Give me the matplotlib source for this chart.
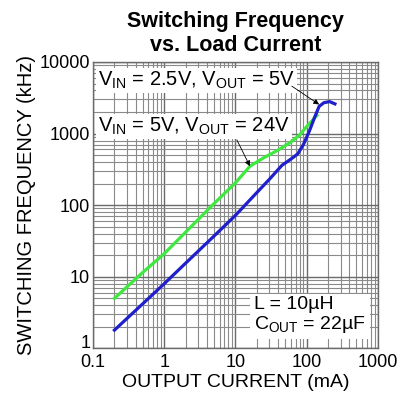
import matplotlib
matplotlib.use("Agg")
import matplotlib.pyplot as plt
import matplotlib.transforms as mtransforms
from matplotlib.ticker import LogLocator, FixedLocator, NullFormatter

plt.rcParams['font.family'] = ['Liberation Sans', 'DejaVu Sans']
plt.rcParams['mathtext.fontset'] = 'custom'
plt.rcParams['mathtext.rm'] = 'Liberation Sans'
plt.rcParams['mathtext.it'] = 'Liberation Sans'

# Data
green_x = [0.2, 0.5, 1, 2, 5, 10, 16, 25, 40, 60, 80, 100, 140]
green_y = [5, 11.5, 21, 42, 105, 205, 350, 460, 590, 760, 960, 1250, 1800]

blue_x = [0.2, 0.5, 1, 2, 5, 10, 20, 30, 45, 60, 75, 90, 110, 130, 150, 175, 210, 250]
blue_y = [1.8, 4.2, 8, 15.5, 37, 72, 150, 230, 360, 440, 520, 700, 1100, 1700, 2400, 2700, 2800, 2600]

x_ticks = [0.1, 1, 10, 100, 1000]
x_tick_labels = ["0.1", "1", "10", "100", "1000"]
y_ticks = [1, 10, 100, 1000, 10000]
y_tick_labels = ["1", "10", "100", "1000", "10000"]

title = "Switching Frequency\nvs. Load Current"
xlabel = "OUTPUT CURRENT (mA)"
ylabel = "SWITCHING FREQUENCY (kHz)"
label_blue = r"V$_\mathrm{IN}$ = 2.5V, V$_\mathrm{OUT}$ = 5V"
label_green = r"V$_\mathrm{IN}$ = 5V, V$_\mathrm{OUT}$ = 24V"
label_cond = "L = 10\u00b5H\n" + "C$_\\mathrm{OUT}$ = 22\u00b5F"

fig = plt.figure(figsize=(4.17, 4.0), dpi=100)
ax = fig.add_axes([0.223, 0.129, 0.683, 0.716])

ax.set_xscale("log")
ax.set_yscale("log")
ax.set_xlim(0.1, 1000)
ax.set_ylim(1, 10000)

ax.xaxis.set_major_locator(FixedLocator(x_ticks))
ax.yaxis.set_major_locator(FixedLocator(y_ticks))
ax.set_xticklabels(x_tick_labels)
ax.set_yticklabels(y_tick_labels)
ax.xaxis.set_minor_locator(LogLocator(base=10, subs=range(2, 10)))
ax.yaxis.set_minor_locator(LogLocator(base=10, subs=range(2, 10)))
ax.xaxis.set_minor_formatter(NullFormatter())
ax.yaxis.set_minor_formatter(NullFormatter())
ax.grid(True, which="major", color="#6a6a6a", lw=1.0)
ax.grid(True, which="minor", color="#8a8a8a", lw=0.8)
ax.tick_params(which="both", length=0, labelsize=13)
ax.tick_params(axis="x", pad=4)
ax.tick_params(axis="y", pad=2)
for s in ax.spines.values():
    s.set_color("#6a6a6a")
    s.set_linewidth(1.0)

# lift the lowest y tick label slightly so it clears the "0.1" label
fig.canvas.draw()
ylab0 = ax.get_yticklabels()[0]
ylab0.set_transform(ylab0.get_transform() +
                    mtransforms.ScaledTranslation(0, 5 / 72, fig.dpi_scale_trans))

ax.plot(green_x, green_y, color="#3ee83e", lw=2.3, zorder=3)
ax.plot(blue_x, blue_y, color="#1f1fcc", lw=2.3, zorder=3)

box = dict(facecolor="white", edgecolor="none", pad=1.5)
ax.text(0.018, 0.935, label_blue, transform=ax.transAxes, fontsize=14.5,
        ha="left", va="center", bbox=box, zorder=4)
ax.text(0.018, 0.775, label_green, transform=ax.transAxes, fontsize=14.5,
        ha="left", va="center", bbox=box, zorder=4)
ax.text(0.565, 0.115, label_cond, transform=ax.transAxes, fontsize=14,
        ha="left", va="center", bbox=dict(facecolor="white", edgecolor="none", pad=3),
        zorder=4, linespacing=1.05)

arrow = dict(arrowstyle="-|>", color="black", lw=0.6, mutation_scale=8,
             shrinkA=0, shrinkB=0)
ax.annotate("", xy=(150, 2550), xytext=(62, 4600), arrowprops=arrow, zorder=5)
ax.annotate("", xy=(16, 350), xytext=(10.5, 815), arrowprops=arrow, zorder=5)

ax.set_xlabel(xlabel, fontsize=14, labelpad=2)
ax.set_ylabel(ylabel, fontsize=14.5, labelpad=3)
ax.set_title(title, fontsize=15.5, fontweight="bold", pad=8, linespacing=1.15)

fig.savefig("out.png", dpi=100)
